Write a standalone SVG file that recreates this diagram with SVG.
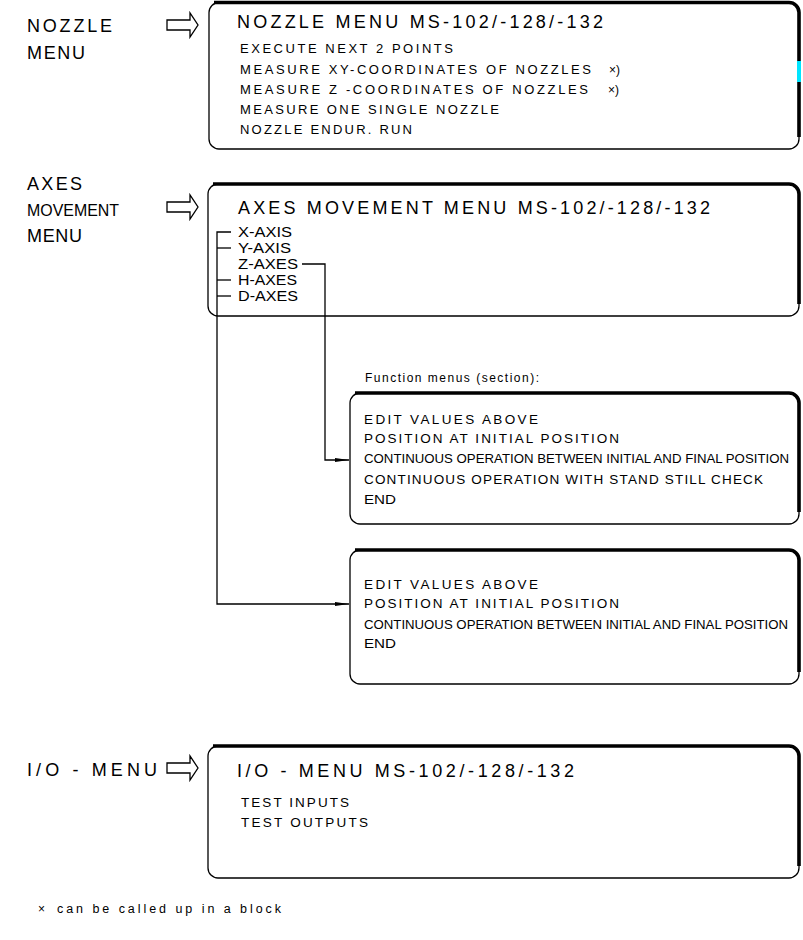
<svg xmlns="http://www.w3.org/2000/svg" width="803" height="940" viewBox="0 0 803 940">
<style>
text{font-family:"Liberation Sans","DejaVu Sans",Arial,sans-serif;fill:#000;}
.lbl{font-size:19px;}
.ttl{font-size:19px;}
.itm{font-size:14px;}
.sm{font-size:13.5px;}
.tiny{font-size:12px;}
.thin{fill:none;stroke:#000;stroke-width:1.3;}
.thick{fill:none;stroke:#000;stroke-width:3.6;}
.conn{fill:none;stroke:#000;stroke-width:1.3;}
.harrow{fill:#fff;stroke:#000;stroke-width:1.3;}
</style>
<defs>
<marker id="ah" markerWidth="14" markerHeight="6" refX="14" refY="3" orient="auto" markerUnits="userSpaceOnUse">
<path d="M0,1 L14,3 L0,5 Z" fill="#000"/>
</marker>
</defs>
<rect width="803" height="940" fill="#fff"/>

<!-- Nozzle menu -->
<g id="nozzle-label">
<text class="lbl" x="27" y="32" textLength="85" lengthAdjust="spacing" style="font-size:18px">NOZZLE</text>
<text class="lbl" x="27" y="59" textLength="58" lengthAdjust="spacing" style="font-size:18px">MENU</text>
<polygon class="harrow" points="167,20 190,20 190,13 198,25 190,37 190,30 167,30"/>
</g>
<g id="nozzle-menu">
<path class="thin" d="M219,2.5 H789 A10,10 0 0 1 799,12.5 V139 A10,10 0 0 1 789,149 H219 A10,10 0 0 1 209,139 V12.5 A10,10 0 0 1 219,2.5 Z"/>
<path class="thick" d="M214,2.5 H789 A10,10 0 0 1 799,12.5 V137"/>
<rect x="797" y="61" width="4" height="21" fill="#00e5ff"/>
<text class="ttl" x="237" y="28" textLength="366" lengthAdjust="spacing" style="font-size:18px">NOZZLE MENU MS-102/-128/-132</text>
<text class="itm" x="240" y="53" textLength="213" lengthAdjust="spacing" style="font-size:13px">EXECUTE NEXT 2 POINTS</text>
<text class="itm" x="240" y="74" textLength="351" lengthAdjust="spacing" style="font-size:13px">MEASURE XY-COORDINATES OF NOZZLES</text>
<text class="tiny" x="609" y="74">×)</text>
<text class="itm" x="240" y="94" textLength="348" lengthAdjust="spacing" style="font-size:13px">MEASURE Z -COORDINATES OF NOZZLES</text>
<text class="tiny" x="608" y="94">×)</text>
<text class="itm" x="240" y="114" textLength="259" lengthAdjust="spacing" style="font-size:13px">MEASURE ONE SINGLE NOZZLE</text>
<text class="itm" x="240" y="134" textLength="172" lengthAdjust="spacing" style="font-size:13px">NOZZLE ENDUR. RUN</text>
</g>

<!-- Axes movement menu -->
<g id="axes-label">
<text class="lbl" x="27" y="190" textLength="55" lengthAdjust="spacing" style="font-size:18px">AXES</text>
<text class="itm" x="27" y="216" textLength="92" lengthAdjust="spacingAndGlyphs" style="font-size:17px">MOVEMENT</text>
<text class="lbl" x="27" y="242" textLength="55" lengthAdjust="spacing" style="font-size:18px">MENU</text>
<polygon class="harrow" points="167,202 190,202 190,195 198,207 190,219 190,212 167,212"/>
</g>
<g id="axes-menu">
<path class="thin" d="M218,184 H789 A10,10 0 0 1 799,194 V306 A10,10 0 0 1 789,316 H218 A10,10 0 0 1 208,306 V194 A10,10 0 0 1 218,184 Z"/>
<path class="thick" d="M213,184 H789 A10,10 0 0 1 799,194 V304"/>
<text class="ttl" x="238" y="214" textLength="472" lengthAdjust="spacing" style="font-size:18px">AXES MOVEMENT MENU MS-102/-128/-132</text>
<text class="itm" x="238" y="237" textLength="54" lengthAdjust="spacingAndGlyphs">X-AXIS</text>
<text class="itm" x="238" y="253" textLength="53" lengthAdjust="spacingAndGlyphs">Y-AXIS</text>
<text class="itm" x="238" y="269" textLength="60" lengthAdjust="spacingAndGlyphs">Z-AXES</text>
<text class="itm" x="238" y="285" textLength="59" lengthAdjust="spacingAndGlyphs">H-AXES</text>
<text class="itm" x="238" y="301" textLength="60" lengthAdjust="spacingAndGlyphs">D-AXES</text>
</g>

<!-- Function menu 1 -->
<g id="function-menu-1">
<text class="itm" x="365" y="382" textLength="174" lengthAdjust="spacing" style="font-size:12px">Function menus (section):</text>
<path class="thin" d="M360,393 H789 A10,10 0 0 1 799,403 V514 A10,10 0 0 1 789,524 H360 A10,10 0 0 1 350,514 V403 A10,10 0 0 1 360,393 Z"/>
<path class="thick" d="M355,393 H789 A10,10 0 0 1 799,403 V512"/>
<text class="sm" x="364" y="424" textLength="174" lengthAdjust="spacing">EDIT VALUES ABOVE</text>
<text class="sm" x="364" y="443" textLength="255" lengthAdjust="spacing">POSITION AT INITIAL POSITION</text>
<text class="sm" x="364" y="463" textLength="425" lengthAdjust="spacingAndGlyphs">CONTINUOUS OPERATION BETWEEN INITIAL AND FINAL POSITION</text>
<text class="sm" x="364" y="484" textLength="399" lengthAdjust="spacing">CONTINUOUS OPERATION WITH STAND STILL CHECK</text>
<text class="sm" x="364" y="504" textLength="32" lengthAdjust="spacingAndGlyphs">END</text>
</g>

<!-- Function menu 2 -->
<g id="function-menu-2">
<path class="thin" d="M360,550 H789 A10,10 0 0 1 799,560 V674 A10,10 0 0 1 789,684 H360 A10,10 0 0 1 350,674 V560 A10,10 0 0 1 360,550 Z"/>
<path class="thick" d="M355,550 H789 A10,10 0 0 1 799,560 V672"/>
<text class="sm" x="364" y="589" textLength="174" lengthAdjust="spacing">EDIT VALUES ABOVE</text>
<text class="sm" x="364" y="608" textLength="255" lengthAdjust="spacing">POSITION AT INITIAL POSITION</text>
<text class="sm" x="364" y="629" textLength="424" lengthAdjust="spacingAndGlyphs">CONTINUOUS OPERATION BETWEEN INITIAL AND FINAL POSITION</text>
<text class="sm" x="364" y="648" textLength="32" lengthAdjust="spacingAndGlyphs">END</text>
</g>

<!-- I/O menu -->
<g id="io-label">
<text class="lbl" x="27" y="776" textLength="130" lengthAdjust="spacing" style="font-size:18px">I/O - MENU</text>
<polygon class="harrow" points="167,763 190,763 190,756 198,768 190,780 190,773 167,773"/>
</g>
<g id="io-menu">
<path class="thin" d="M218,746 H789 A10,10 0 0 1 799,756 V868 A10,10 0 0 1 789,878 H218 A10,10 0 0 1 208,868 V756 A10,10 0 0 1 218,746 Z"/>
<path class="thick" d="M213,746 H789 A10,10 0 0 1 799,756 V866"/>
<text class="ttl" x="237" y="777" textLength="337" lengthAdjust="spacing" style="font-size:18px">I/O - MENU MS-102/-128/-132</text>
<text class="itm" x="241" y="807" textLength="108" lengthAdjust="spacing" style="font-size:13.5px">TEST INPUTS</text>
<text class="itm" x="241" y="827" textLength="127" lengthAdjust="spacing" style="font-size:13.5px">TEST OUTPUTS</text>
</g>

<g id="footnote">
<text class="tiny" x="38" y="913">×</text>
<text class="itm" x="57" y="913" textLength="224" lengthAdjust="spacing" style="font-size:12.5px">can be called up in a block</text>
</g>

<!-- Connectors -->
<g id="connectors">
<path class="conn" d="M231,232 H217 V604 H349" marker-end="url(#ah)"/>
<path class="conn" d="M217,248 H231"/>
<path class="conn" d="M217,280 H231"/>
<path class="conn" d="M217,296 H231"/>
<path class="conn" d="M302,264 H325 V460 H349" marker-end="url(#ah)"/>
</g>
</svg>
